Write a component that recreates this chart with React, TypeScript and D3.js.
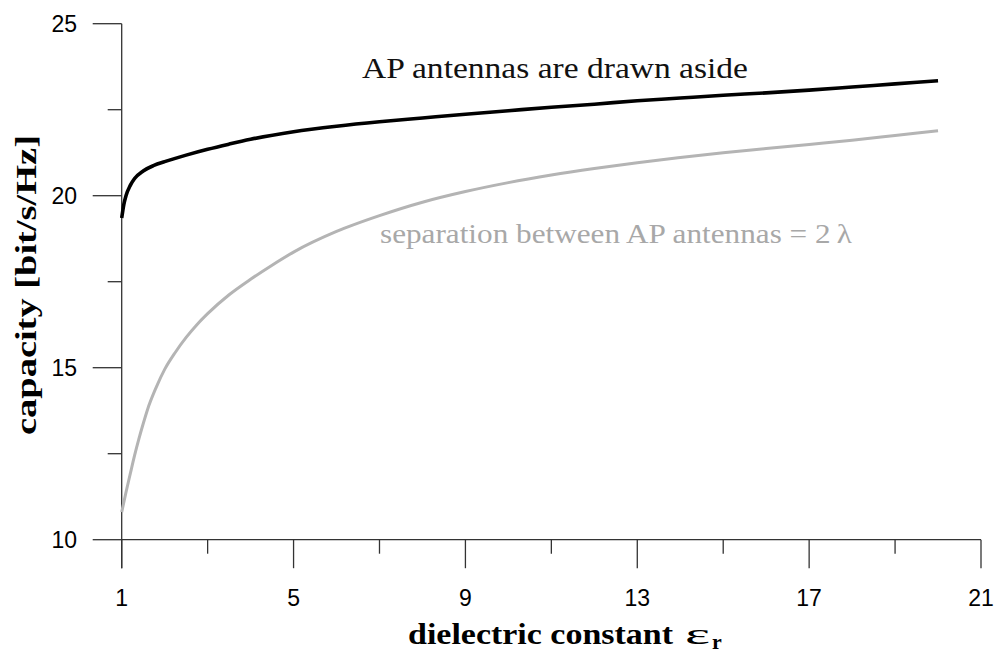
import React from "react";
import * as d3 from "d3";

const epsAside: number[] = [1.0, 1.05, 1.1, 1.2, 1.3, 1.5, 1.75, 2.0, 2.5, 3.0, 3.5, 4.0, 5.0, 6.0, 7.0, 8.0, 9.0, 10, 11, 12, 13, 14, 15, 16, 17, 18, 19, 20];
const capAside: number[] = [19.35, 19.75, 20.0, 20.3, 20.5, 20.72, 20.88, 20.99, 21.18, 21.35, 21.5, 21.64, 21.86, 22.02, 22.15, 22.26, 22.37, 22.47, 22.57, 22.66, 22.76, 22.84, 22.92, 22.99, 23.07, 23.16, 23.25, 23.34];

const epsSep: number[] = [1.0, 1.1, 1.2, 1.3, 1.4, 1.5, 1.6, 1.8, 2.0, 2.25, 2.5, 2.75, 3.0, 3.5, 4.0, 4.5, 5.0, 6.0, 7.0, 8.0, 9.0, 10, 11, 12, 13, 14, 15, 16, 17, 18, 19, 20];
const capSep: number[] = [10.8, 11.38, 11.92, 12.45, 12.93, 13.37, 13.78, 14.42, 14.95, 15.45, 15.88, 16.25, 16.57, 17.12, 17.57, 17.98, 18.36, 18.96, 19.42, 19.81, 20.12, 20.38, 20.6, 20.79, 20.96, 21.11, 21.25, 21.37, 21.49, 21.61, 21.75, 21.89];

const xMajorTicks: number[] = [1, 5, 9, 13, 17, 21];
const xMinorTicks: number[] = [3, 7, 11, 15, 19];
const yMajorTicks: number[] = [10, 15, 20, 25];
const yMinorTicks: number[] = [12.5, 17.5, 22.5];

const labelAside = "AP antennas are drawn aside";
const labelSep = "separation between AP antennas = 2\u2009\u03bb";
const xTitle = "dielectric constant";
const yTitle = "capacity  [bit/s/Hz]";

export default function App() {
  const x = d3.scaleLinear().domain([1, 21]).range([121.7, 981]);
  const y = d3.scaleLinear().domain([10, 25]).range([539.7, 23.7]);

  const line = d3
    .line<[number, number]>()
    .x((d) => x(d[0]))
    .y((d) => y(d[1]))
    .curve(d3.curveMonotoneX);

  const aside: [number, number][] = epsAside.map((e, i) => [e, capAside[i]]);
  const sep: [number, number][] = epsSep.map((e, i) => [e, capSep[i]]);

  const axisColor = "#333";
  const tickFont = "'Liberation Sans', Arial, sans-serif";
  const serif = "'Liberation Serif', 'Times New Roman', 'DejaVu Serif', serif";

  return (
    <svg
      width={994}
      height={655}
      style={{ position: "absolute", left: 0, top: 0, background: "#fff" }}
    >
      <rect x={0} y={0} width={994} height={655} fill="#fff" />
      {/* axes */}
      <line x1={x(1)} x2={x(1)} y1={y(25)} y2={y(10) + 28.5} stroke={axisColor} strokeWidth={1.3} />
      <line x1={x(1)} x2={x(21)} y1={y(10)} y2={y(10)} stroke={axisColor} strokeWidth={1.3} />
      {yMajorTicks.map((t) => (
        <g key={"ym" + t}>
          <line x1={x(1) - 29} x2={x(1)} y1={y(t)} y2={y(t)} stroke={axisColor} strokeWidth={1.3} />
          <text
            x={77}
            y={y(t)}
            textAnchor="end"
            dominantBaseline="central"
            fontFamily={tickFont}
            fontSize={23}
            fill="#000"
          >
            {t}
          </text>
        </g>
      ))}
      {yMinorTicks.map((t) => (
        <line key={"yn" + t} x1={x(1) - 14} x2={x(1)} y1={y(t)} y2={y(t)} stroke={axisColor} strokeWidth={1.3} />
      ))}
      {xMajorTicks.map((t) => (
        <g key={"xm" + t}>
          <line x1={x(t)} x2={x(t)} y1={y(10)} y2={y(10) + 28.5} stroke={axisColor} strokeWidth={1.3} />
          <text x={x(t)} y={606} textAnchor="middle" fontFamily={tickFont} fontSize={23} fill="#000">
            {t}
          </text>
        </g>
      ))}
      {xMinorTicks.map((t) => (
        <line key={"xn" + t} x1={x(t)} x2={x(t)} y1={y(10)} y2={y(10) + 14} stroke={axisColor} strokeWidth={1.3} />
      ))}

      {/* curves */}
      <path d={line(sep) || ""} fill="none" stroke="#b4b4b4" strokeWidth={3} />
      <path d={line(aside) || ""} fill="none" stroke="#000" strokeWidth={3.6} />

      {/* annotations */}
      <text
        x={362}
        y={78}
        style={{ fontFamily: serif, fontWeight: 400 }}
        fontSize={29}
        textLength={386}
        lengthAdjust="spacingAndGlyphs"
        fill="#111"
      >
        {labelAside}
      </text>
      <text
        x={380}
        y={243}
        style={{ fontFamily: serif, fontWeight: 400 }}
        fontSize={28}
        textLength={472}
        lengthAdjust="spacingAndGlyphs"
        fill="#a8a8a8"
      >
        {labelSep}
      </text>

      {/* x title */}
      <text
        x={408}
        y={644}
        fontFamily={serif}
        fontWeight="bold"
        fontSize={30}
        textLength={265}
        lengthAdjust="spacingAndGlyphs"
        fill="#000"
      >
        {xTitle}
      </text>
      <text
        x={685}
        y={644}
        fontFamily={serif}
        fontSize={30}
        textLength={25}
        lengthAdjust="spacingAndGlyphs"
        fill="#000"
      >
        {"\u03b5"}
      </text>
      <text
        x={712}
        y={649}
        fontFamily={serif}
        fontWeight="bold"
        fontSize={22}
        fill="#000"
      >
        r
      </text>

      {/* y title */}
      <text
        transform={`translate(36, 435) rotate(-90)`}
        x={0}
        y={0}
        fontFamily={serif}
        fontWeight="bold"
        fontSize={30}
        textLength={300}
        lengthAdjust="spacingAndGlyphs"
        fill="#000"
      >
        {yTitle}
      </text>
    </svg>
  );
}
